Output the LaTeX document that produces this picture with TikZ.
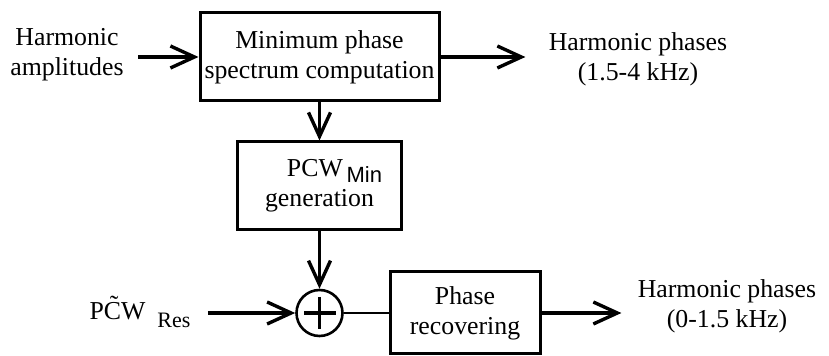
\documentclass[tikz,border=0pt]{standalone}
\usepackage{fontspec}
\setmainfont{Liberation Serif}
\setsansfont{Liberation Sans}
\usetikzlibrary{arrows.meta,positioning}

\begin{document}
\begin{tikzpicture}[
  x=0.5pt, y=-0.5pt,
  font=\fontsize{12.9}{15}\selectfont,
  block/.style={draw, line width=1.5pt, align=center, inner sep=0pt},
  plain/.style={align=center, inner sep=0pt},
  arrow/.style={-{Straight Barb[length=12pt, width=11pt, line width=1.7pt]}, line width=1.6pt},
  thinline/.style={line width=1.2pt},
  sumnode/.style={circle, draw, line width=1.3pt, minimum size=23pt, inner sep=0pt,
    path picture={
      \draw[line width=1.6pt] ([yshift=8pt]path picture bounding box.center) -- ([yshift=-8pt]path picture bounding box.center);
      \draw[line width=1.6pt] ([xshift=8pt]path picture bounding box.center) -- ([xshift=-8pt]path picture bounding box.center);
    }}
]
\useasboundingbox (0,0) rectangle (829,356);

\node[plain] (amp) at (67,55) {Harmonic\\amplitudes};
\node[block, minimum width=119.5pt, minimum height=44pt] (minph) at (319.5,57) {Minimum phase\\spectrum computation};
\node[plain] (hp1) at (638,59) {Harmonic phases\\(1.5-4 kHz)};

\node[block, minimum width=82pt, minimum height=44pt] (pcw) at (319.5,186) {\hspace*{15pt}PCW{\sffamily\fontsize{11}{13}\selectfont\,\raisebox{-0.5ex}{Min}}\\generation};

\node[sumnode] (sum) at (319.5,313) {};
\node[plain] (res) at (140,312) {P\~{C}W\hspace{6pt}\raisebox{-0.7ex}{\fontsize{11}{13}\selectfont Res}};
\node[block, minimum width=75pt, minimum height=41pt] (recov) at (465,313) {Phase\\recovering};
\node[plain] (hp2) at (727,306) {Harmonic phases\\(0-1.5 kHz)};

\draw[arrow] ([xshift=7pt]amp.east |- minph.west) -- (minph.west);
\draw[arrow] (minph.east) -- ([xshift=-11.5pt]hp1.west |- minph.east);
\draw[arrow, thinline] (minph) -- (pcw);
\draw[arrow, thinline] (pcw) -- (sum);
\draw[arrow] ([xshift=8.5pt]res.east |- sum.west) -- (sum.west);
\draw[thinline] (sum) -- (recov);
\draw[arrow] (recov) -- ([xshift=-8pt]hp2.west |- recov.east);

\end{tikzpicture}
\end{document}
